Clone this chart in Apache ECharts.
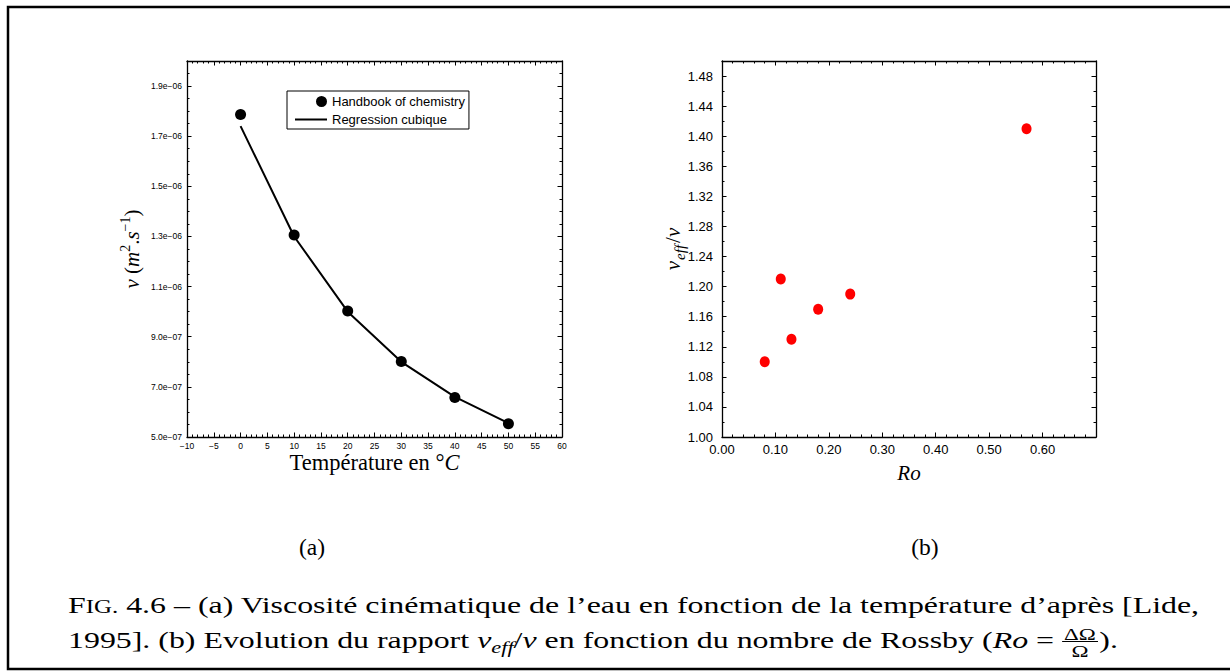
<!DOCTYPE html>
<html><head><meta charset="utf-8">
<script src="https://cdn.jsdelivr.net/npm/echarts@6/dist/echarts.min.js"></script>
<style>html,body{margin:0;padding:0;background:#fff}#c{width:1230px;height:671px}</style>
</head><body><div id="c"></div>
<script>
// ---------- data ----------
const tempHandbook = [0, 10, 20, 30, 40, 50];
const viscHandbook = [1.787e-6, 1.306e-6, 1.003e-6, 0.801e-6, 0.658e-6, 0.553e-6];
const tempRegression = [0, 10, 20, 30, 40, 50];
const viscRegression = [1.74e-6, 1.30e-6, 1.00e-6, 0.80e-6, 0.66e-6, 0.555e-6];
const rossbyNumber = [0.08, 0.11, 0.13, 0.18, 0.24, 0.57];
const viscRatio = [1.10, 1.21, 1.13, 1.17, 1.19, 1.41];
const seriesNames = ['Handbook of chemistry', 'Regression cubique'];
const panelLabels = ['(a)', '(b)'];
const captionLine1 = [
  {t: 'F'}, {t: 'IG.', s: 0.78},
  {t: ' 4.6 – (a) Viscosité cinématique de l’eau en fonction de la température d’après [Lide,'}
];
const captionLine2 = [
  {t: '1995]. (b) Evolution du rapport '}, {t: 'ν', it: true}, {t: 'eff', it: true, s: 0.7, dy: 5},
  {t: '/'}, {t: 'ν', it: true}, {t: ' en fonction du nombre de Rossby ('}, {t: 'Ro', it: true},
  {t: ' = '}, {frac: true, num: 'ΔΩ', den: 'Ω', s: 0.72}, {t: ').'}
];

// ---------- helpers ----------
const SERIF = '"Liberation Serif", "Times New Roman", serif';
const SANS = '"Liberation Sans", Arial, sans-serif';
const mctx = document.createElement('canvas').getContext('2d');
function fnt(size, it) { return (it ? 'italic ' : '') + size + 'px ' + SERIF; }
function mw(t, f) { mctx.font = f; return mctx.measureText(t).width; }

function sciLabel(v) {
  if (Math.abs(v - 2e-6) < 1e-12) return '';
  const s = v.toExponential(1);
  const parts = s.split('e');
  const n = parseInt(parts[1], 10);
  return parts[0] + 'e' + (n < 0 ? '−' : '+') + String(Math.abs(n)).padStart(2, '0');
}
function signedLabel(v) { return v < 0 ? '−' + (-v) : String(v); }

const LINE = {show: true, onZero: false, lineStyle: {color: '#000', width: 1.3}};
function mkAxis(o) {
  return Object.assign({
    type: 'value', axisLine: LINE,
    axisTick: {show: true, inside: true, length: 4.5, lineStyle: {color: '#000', width: 1}},
    minorTick: {show: true, splitNumber: o.minorSplit || 5, length: 2.5, lineStyle: {color: '#000', width: 1}},
    splitLine: {show: false}, minorSplitLine: {show: false}
  }, o.base);
}

const S = 23.5;
function buildLine(pieces, x0, baseline, scaleX) {
  const children = [];
  let x = 0;
  pieces.forEach(p => {
    if (p.frac) {
      const fs = S * p.s;
      const f = fnt(fs, false);
      const wn = mw(p.num, f), wd = mw(p.den, f);
      const fw = Math.max(wn, wd) + 3;
      const cx = x + fw / 2;
      children.push({type: 'text', x: cx, y: baseline - 13.5, style: {text: p.num, font: f, fill: '#000', align: 'center', verticalAlign: 'middle'}});
      children.push({type: 'line', shape: {x1: x, y1: baseline - 6.5, x2: x + fw, y2: baseline - 6.5}, style: {stroke: '#000', lineWidth: 1}});
      children.push({type: 'text', x: cx, y: baseline + 3, style: {text: p.den, font: f, fill: '#000', align: 'center', verticalAlign: 'middle'}});
      x += fw + 1;
    } else {
      const fs = S * (p.s || 1);
      const f = fnt(fs, p.it);
      children.push({type: 'text', x: x, y: baseline - 0.33 * fs + (p.dy || 0),
        style: {text: p.t, font: f, fill: '#000', align: 'left', verticalAlign: 'middle'}});
      x += mw(p.t, f);
    }
  });
  return {width: x, group: {type: 'group', x: x0, y: 0, scaleX: scaleX, children: children}};
}
const l1 = buildLine(captionLine1, 0, 613, 1);
const capScale = 1132 / l1.width;
const cap1 = buildLine(captionLine1, 68, 613, capScale).group;
const cap2 = buildLine(captionLine2, 68, 648, capScale).group;

const nameRich = {
  i: {fontFamily: SERIF, fontStyle: 'italic', fontSize: 21, lineHeight: 28, verticalAlign: 'middle', color: '#000'},
  n: {fontFamily: SERIF, fontSize: 21, lineHeight: 28, verticalAlign: 'middle', color: '#000'},
  sup: {fontFamily: SERIF, fontSize: 14, lineHeight: 14, verticalAlign: 'top', color: '#000'},
  sub: {fontFamily: SERIF, fontStyle: 'italic', fontSize: 15, lineHeight: 15, verticalAlign: 'bottom', color: '#000', padding: [0, 2, 0, 1]}
};

const chart = echarts.init(document.getElementById('c'), null, {renderer: 'svg'});
chart.setOption({
  backgroundColor: '#fff',
  animation: false,
  grid: [
    {left: 187, top: 61, width: 375, height: 376, outerBoundsMode: 'none'},
    {left: 722, top: 61, width: 374, height: 376, outerBoundsMode: 'none'}
  ],
  xAxis: [
    mkAxis({base: {gridIndex: 0, position: 'bottom', min: -10, max: 60, interval: 5,
      axisLabel: {formatter: signedLabel, fontFamily: SANS, fontSize: 8.5, color: '#000', margin: 4},
      name: 'Température en °{i|C}', nameLocation: 'middle', nameGap: 14, nameMoveOverlap: false,
      nameTextStyle: {fontFamily: SERIF, fontSize: 22.5, color: '#000', rich: {i: {fontFamily: SERIF, fontStyle: 'italic', fontSize: 22.5, color: '#000'}}}}}),
    mkAxis({base: {gridIndex: 0, position: 'top', min: -10, max: 60, interval: 5, axisLabel: {show: false}}}),
    mkAxis({base: {gridIndex: 1, position: 'bottom', min: 0, max: 0.7, interval: 0.1,
      axisLabel: {formatter: v => v > 0.65 ? '' : v.toFixed(2), fontFamily: SANS, fontSize: 13, color: '#000', margin: 6},
      name: '{i|Ro}', nameLocation: 'middle', nameGap: 25, nameMoveOverlap: false,
      nameTextStyle: {rich: {i: {fontFamily: SERIF, fontStyle: 'italic', fontSize: 21, color: '#000'}}}}}),
    mkAxis({base: {gridIndex: 1, position: 'top', min: 0, max: 0.7, interval: 0.1, axisLabel: {show: false}}})
  ],
  yAxis: [
    mkAxis({minorSplit: 4, base: {gridIndex: 0, position: 'left', min: 5e-7, max: 2e-6, interval: 2e-7,
      axisLabel: {formatter: sciLabel, fontFamily: SANS, fontSize: 8.5, color: '#000', margin: 5},
      name: '{i|ν} {n|(}{i|m}{sup|2}{n|.}{i|s}{sup|−1}{n|)}', nameLocation: 'middle', nameGap: 41, nameMoveOverlap: false,
      nameTextStyle: {fontFamily: SERIF, fontSize: 21, lineHeight: 28, color: '#000', rich: nameRich}}}),
    mkAxis({minorSplit: 4, base: {gridIndex: 0, position: 'right', min: 5e-7, max: 2e-6, interval: 2e-7, axisLabel: {show: false}}}),
    mkAxis({minorSplit: 2, base: {gridIndex: 1, position: 'left', min: 1.0, max: 1.5, interval: 0.04,
      axisLabel: {formatter: v => v > 1.49 ? '' : v.toFixed(2), fontFamily: SANS, fontSize: 13, color: '#000', margin: 9},
      name: '{i|ν}{sub|eff}{n|/}{i|ν}', nameLocation: 'middle', nameGap: 35, nameMoveOverlap: false,
      nameTextStyle: {fontFamily: SERIF, fontSize: 21, lineHeight: 28, color: '#000', rich: nameRich}}}),
    mkAxis({minorSplit: 2, base: {gridIndex: 1, position: 'right', min: 1.0, max: 1.5, interval: 0.04, axisLabel: {show: false}}})
  ],
  legend: {
    orient: 'vertical', left: 287, top: 91, padding: [4, 4, 3, 8], itemGap: 5,
    itemWidth: 32, itemHeight: 12, borderColor: '#000', borderWidth: 1, backgroundColor: '#fff',
    textStyle: {fontFamily: SANS, fontSize: 13, color: '#000', padding: [0, 0, 0, 0]},
    data: [
      {name: seriesNames[0], icon: 'path://M0,6L0.1,6M21,6a5.5,5.5 0 1,0 11,0a5.5,5.5 0 1,0 -11,0Z'},
      {name: seriesNames[1], icon: 'path://M0,0L0.1,0M0,5H32V7H0ZM0,12L0.1,12'}
    ]
  },
  series: [
    {name: seriesNames[1], type: 'line', xAxisIndex: 0, yAxisIndex: 0, symbol: 'none', smooth: false,
      lineStyle: {color: '#000', width: 2}, itemStyle: {color: '#000'},
      data: tempRegression.map((t, i) => [t, viscRegression[i]]), z: 2},
    {name: seriesNames[0], type: 'scatter', xAxisIndex: 0, yAxisIndex: 0, symbol: 'circle', symbolSize: 11,
      itemStyle: {color: '#000', opacity: 1}, data: tempHandbook.map((t, i) => [t, viscHandbook[i]]), z: 3},
    {name: 'ratio', type: 'scatter', xAxisIndex: 2, yAxisIndex: 2, symbol: 'circle', symbolSize: [10, 11],
      itemStyle: {color: '#ff0000', opacity: 1}, data: rossbyNumber.map((r, i) => [r, viscRatio[i]]), z: 3}
  ],
  graphic: [
    {type: 'rect', shape: {x: 8, y: 7, width: 1240, height: 662}, style: {fill: 'none', stroke: '#000', lineWidth: 2.5}, silent: true},
    {type: 'text', x: 312, y: 547, style: {text: panelLabels[0], font: fnt(S, false), fill: '#000', align: 'center', verticalAlign: 'middle'}},
    {type: 'text', x: 925, y: 547, style: {text: panelLabels[1], font: fnt(S, false), fill: '#000', align: 'center', verticalAlign: 'middle'}},
    cap1, cap2
  ]
});
</script></body></html>
